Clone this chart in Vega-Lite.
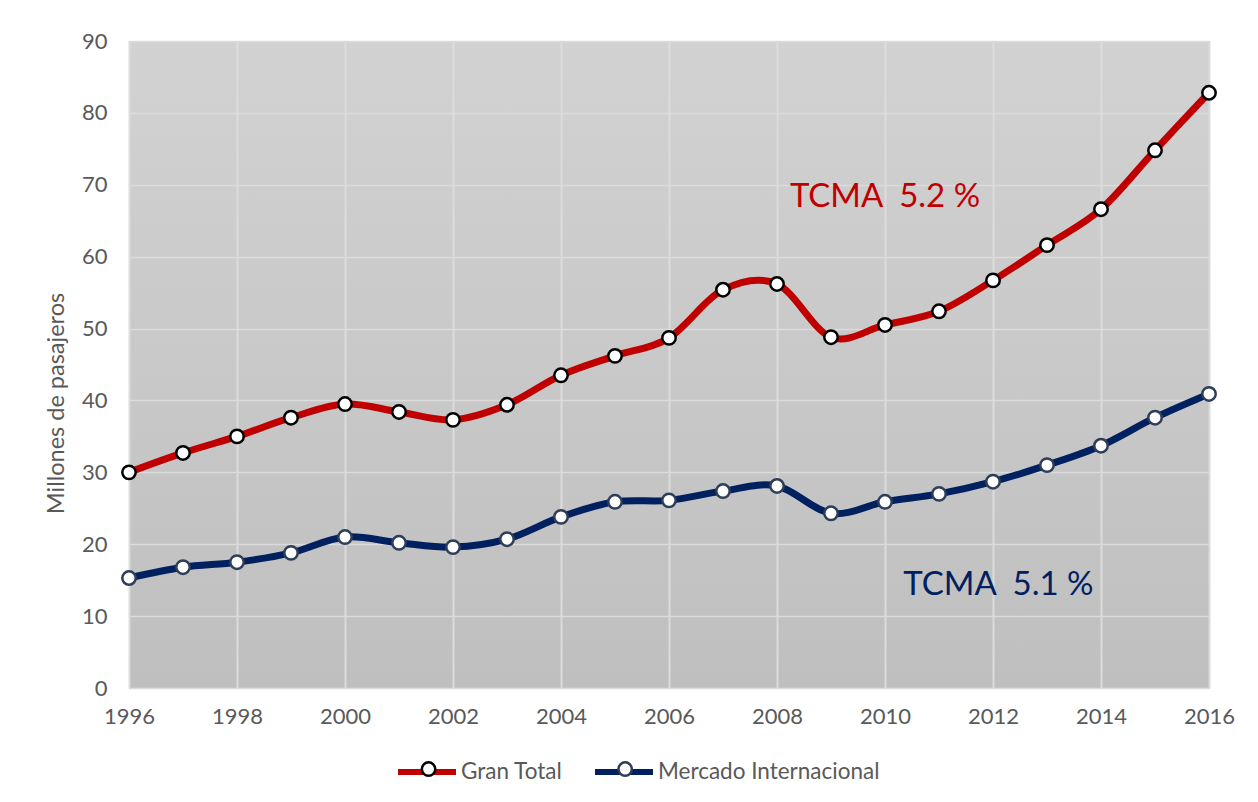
{
  "$schema": "https://vega.github.io/schema/vega-lite/v6.json",
  "width": 1080,
  "height": 647,
  "autosize": "none",
  "padding": {"left": 129, "top": 41, "right": 49, "bottom": 114},
  "background": "white",
  "config": {
    "font": "Lato",
    "view": {
      "stroke": "#b3b3b3",
      "strokeWidth": 1,
      "fill": {"gradient": "linear", "x1": 0, "y1": 0, "x2": 0, "y2": 1, "stops": [{"offset": 0, "color": "#d2d2d2"}, {"offset": 1, "color": "#bfbfbf"}]}
    },
    "axis": {
      "labelFont": "Lato",
      "labelFontSize": 22,
      "labelColor": "#595959",
      "titleFont": "Lato",
      "titleFontSize": 23.5,
      "titleColor": "#595959",
      "titleFontWeight": "normal",
      "gridColor": "#dcdcdc",
      "gridWidth": 1.5,
      "ticks": false,
      "domain": false,
      "labelFlush": false,
      "labelOverlap": false
    }
  },
  "datasets": {
    "series": [
      {"year": 1996, "series": "Gran Total", "value": 30.0},
      {"year": 1997, "series": "Gran Total", "value": 32.7},
      {"year": 1998, "series": "Gran Total", "value": 35.0},
      {"year": 1999, "series": "Gran Total", "value": 37.6},
      {"year": 2000, "series": "Gran Total", "value": 39.5},
      {"year": 2001, "series": "Gran Total", "value": 38.4},
      {"year": 2002, "series": "Gran Total", "value": 37.3},
      {"year": 2003, "series": "Gran Total", "value": 39.4},
      {"year": 2004, "series": "Gran Total", "value": 43.5},
      {"year": 2005, "series": "Gran Total", "value": 46.2},
      {"year": 2006, "series": "Gran Total", "value": 48.7},
      {"year": 2007, "series": "Gran Total", "value": 55.4},
      {"year": 2008, "series": "Gran Total", "value": 56.2},
      {"year": 2009, "series": "Gran Total", "value": 48.8},
      {"year": 2010, "series": "Gran Total", "value": 50.5},
      {"year": 2011, "series": "Gran Total", "value": 52.4},
      {"year": 2012, "series": "Gran Total", "value": 56.7},
      {"year": 2013, "series": "Gran Total", "value": 61.6},
      {"year": 2014, "series": "Gran Total", "value": 66.6},
      {"year": 2015, "series": "Gran Total", "value": 74.8},
      {"year": 2016, "series": "Gran Total", "value": 82.8},
      {"year": 1996, "series": "Mercado Internacional", "value": 15.3},
      {"year": 1997, "series": "Mercado Internacional", "value": 16.8},
      {"year": 1998, "series": "Mercado Internacional", "value": 17.5},
      {"year": 1999, "series": "Mercado Internacional", "value": 18.8},
      {"year": 2000, "series": "Mercado Internacional", "value": 21.0},
      {"year": 2001, "series": "Mercado Internacional", "value": 20.2},
      {"year": 2002, "series": "Mercado Internacional", "value": 19.6},
      {"year": 2003, "series": "Mercado Internacional", "value": 20.7},
      {"year": 2004, "series": "Mercado Internacional", "value": 23.8},
      {"year": 2005, "series": "Mercado Internacional", "value": 25.9},
      {"year": 2006, "series": "Mercado Internacional", "value": 26.1},
      {"year": 2007, "series": "Mercado Internacional", "value": 27.4},
      {"year": 2008, "series": "Mercado Internacional", "value": 28.1},
      {"year": 2009, "series": "Mercado Internacional", "value": 24.3},
      {"year": 2010, "series": "Mercado Internacional", "value": 25.9},
      {"year": 2011, "series": "Mercado Internacional", "value": 27.0},
      {"year": 2012, "series": "Mercado Internacional", "value": 28.7},
      {"year": 2013, "series": "Mercado Internacional", "value": 31.0},
      {"year": 2014, "series": "Mercado Internacional", "value": 33.7},
      {"year": 2015, "series": "Mercado Internacional", "value": 37.6},
      {"year": 2016, "series": "Mercado Internacional", "value": 40.9}
    ],
    "notes": [
      {"year": 2010.0, "value": 68.3, "series": "Gran Total", "label": "TCMA\u00a0 5.2 %"},
      {"year": 2012.1, "value": 14.3, "series": "Mercado Internacional", "label": "TCMA\u00a0 5.1 %"}
    ]
  },
  "layer": [
    {
      "data": {"name": "series"},
      "mark": {"type": "line", "interpolate": "cardinal", "strokeWidth": 7, "strokeCap": "round"},
      "encoding": {
        "x": {
          "field": "year", "type": "quantitative",
          "scale": {"domain": [1996, 2016], "nice": false, "zero": false},
          "axis": {"title": null, "values": [1996, 1998, 2000, 2002, 2004, 2006, 2008, 2010, 2012, 2014, 2016], "format": "d", "labelPadding": 18, "gridWidth": 2}
        },
        "y": {
          "field": "value", "type": "quantitative",
          "scale": {"domain": [0, 90], "nice": false},
          "axis": {"title": "Millones de pasajeros", "values": [0, 10, 20, 30, 40, 50, 60, 70, 80, 90], "labelPadding": 22, "titlePadding": 13, "titleY": 362}
        },
        "color": {
          "field": "series", "type": "nominal",
          "scale": {"domain": ["Gran Total", "Mercado Internacional"], "range": ["#c00000", "#002060"]},
          "legend": {
            "title": null,
            "orient": "none",
            "direction": "horizontal",
            "legendX": 266,
            "legendY": 699,
            "symbolType": "M-1,0L1,0",
            "symbolSize": 3364,
            "symbolStrokeWidth": 6,
            "labelFont": "Lato",
            "labelFontSize": 22.5,
            "labelColor": "#595959",
            "labelOffset": 2,
            "labelLimit": 0,
            "columnPadding": 20
          }
        }
      }
    },
    {
      "data": {"name": "series"},
      "mark": {"type": "point", "filled": true, "fill": "white", "size": 180, "strokeWidth": 2.5, "opacity": 1},
      "encoding": {
        "x": {"field": "year", "type": "quantitative"},
        "y": {"field": "value", "type": "quantitative"},
        "stroke": {
          "field": "series", "type": "nominal",
          "scale": {"range": ["#000000", "#2e3d58"]},
          "legend": {
            "title": null,
            "orient": "none",
            "direction": "horizontal",
            "legendX": 288.3,
            "legendY": 716.75,
            "symbolType": "circle",
            "symbolSize": 180,
            "symbolStrokeWidth": 2.5,
            "symbolFillColor": "white",
            "labelFontSize": 22.5,
            "labelExpr": "''",
            "labelOffset": 0,
            "labelLimit": 0,
            "columnPadding": 172.6,
            "encode": {"symbols": {"fill": {"value": "white"}, "fillOpacity": {"value": 1}}}
          }
        }
      }
    },
    {
      "data": {"name": "notes"},
      "mark": {"type": "text", "font": "Lato", "fontSize": 33, "align": "center", "baseline": "middle"},
      "encoding": {
        "x": {"field": "year", "type": "quantitative"},
        "y": {"field": "value", "type": "quantitative"},
        "text": {"field": "label"},
        "color": {"field": "series", "type": "nominal", "legend": null}
      }
    }
  ]
}
